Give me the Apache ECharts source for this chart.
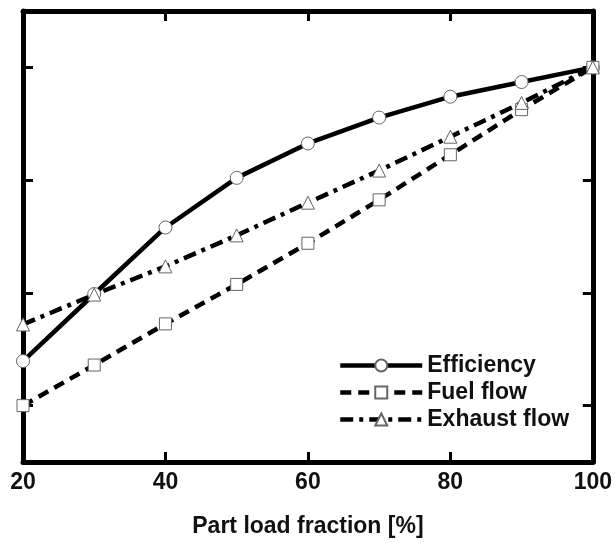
<!DOCTYPE html>
<html>
<head>
<meta charset="utf-8">
<script src="https://cdn.jsdelivr.net/npm/echarts@6/dist/echarts.min.js"></script>
<style>
html,body{margin:0;padding:0;background:#fff;}
#chart{width:615px;height:543px;}
</style>
</head>
<body>
<div id="chart"></div>
<script>
// Data
const loadFraction = [20, 30, 40, 50, 60, 70, 80, 90, 100];
const efficiency   = [47.9, 59.8, 71.6, 80.4, 86.5, 91.1, 94.8, 97.4, 100];
const fuelFlow     = [40.0, 47.2, 54.5, 61.5, 68.8, 76.5, 84.5, 92.5, 100];
const exhaustFlow  = [54.4, 59.7, 64.7, 70.2, 76.0, 81.7, 87.7, 93.7, 100];
const seriesNames  = ['Efficiency', 'Fuel flow', 'Exhaust flow'];
const xTicks = [20, 40, 60, 80, 100];
const yTicks = [40, 60, 80, 100];

const pairs = arr => loadFraction.map((x, i) => [x, arr[i]]);
const FONT = '"Liberation Sans", Arial, sans-serif';
const markerStyle = {color: '#fff', borderColor: '#666', borderWidth: 1};

const axisLineStyle = {show: true, lineStyle: {color: '#000', width: 5}};
const tickStyle = {show: true, inside: true, length: 10, lineStyle: {color: '#000', width: 3}};

const chart = echarts.init(document.getElementById('chart'), null, {renderer: 'canvas'});
chart.setOption({
  animation: false,
  backgroundColor: '#fff',
  grid: {left: 23, right: 19, top: 11, bottom: 79, containLabel: false},
  legend: {
    orient: 'vertical',
    left: 333,
    top: 349,
    itemWidth: 82,
    itemHeight: 15,
    itemGap: 4,
    data: seriesNames,
    lineStyle: {width: 4.5},
    textStyle: {fontFamily: FONT, fontWeight: 'bold', fontSize: 23, color: '#111'}
  },
  xAxis: [{
    type: 'value', min: 20, max: 100, interval: 20, position: 'bottom',
    axisLine: axisLineStyle,
    axisTick: Object.assign({customValues: xTicks}, tickStyle),
    axisLabel: {customValues: xTicks, margin: 9, fontFamily: FONT, fontWeight: 'bold', fontSize: 23, color: '#111'},
    splitLine: {show: false},
    name: 'Part load fraction [%]',
    nameLocation: 'middle',
    nameGap: 53,
    nameTextStyle: {fontFamily: FONT, fontWeight: 'bold', fontSize: 23, color: '#111'}
  }, {
    type: 'value', min: 20, max: 100, interval: 20, position: 'top',
    axisLine: axisLineStyle,
    axisTick: Object.assign({customValues: xTicks}, tickStyle),
    axisLabel: {show: false},
    splitLine: {show: false}
  }],
  yAxis: [{
    type: 'value', min: 30, max: 110, position: 'left',
    axisLine: axisLineStyle,
    axisTick: Object.assign({customValues: yTicks}, tickStyle),
    axisLabel: {show: false},
    splitLine: {show: false}
  }, {
    type: 'value', min: 30, max: 110, position: 'right',
    axisLine: axisLineStyle,
    axisTick: Object.assign({customValues: yTicks}, tickStyle),
    axisLabel: {show: false},
    splitLine: {show: false}
  }],
  series: [{
    name: seriesNames[0], type: 'line', data: pairs(efficiency),
    symbol: 'circle', symbolSize: 13, showAllSymbol: true,
    lineStyle: {color: '#000', width: 4.5, type: 'solid'},
    itemStyle: markerStyle, color: '#000'
  }, {
    name: seriesNames[1], type: 'line', data: pairs(fuelFlow),
    symbol: 'rect', symbolSize: 12, showAllSymbol: true,
    lineStyle: {color: '#000', width: 4.5, type: [11, 7]},
    itemStyle: markerStyle, color: '#000'
  }, {
    name: seriesNames[2], type: 'line', data: pairs(exhaustFlow),
    symbol: 'triangle', symbolSize: 13, showAllSymbol: true,
    lineStyle: {color: '#000', width: 4.5, type: [13, 6, 4, 6]},
    itemStyle: markerStyle, color: '#000'
  }]
});
</script>
</body>
</html>
